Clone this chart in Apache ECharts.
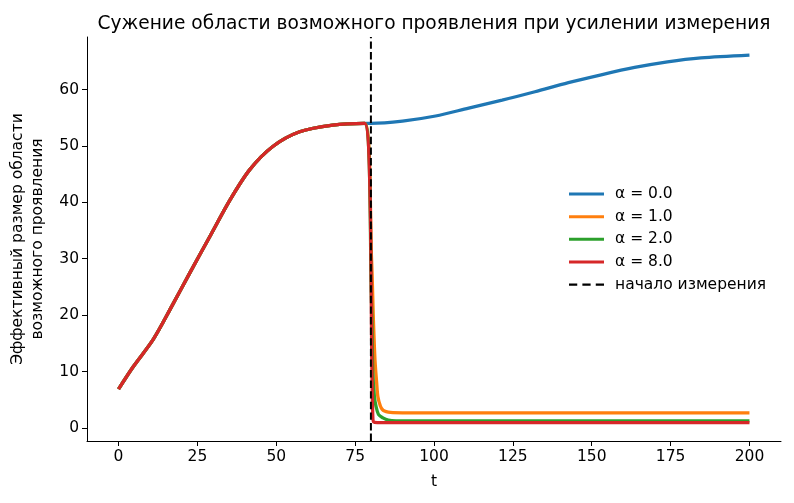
<!DOCTYPE html>
<html>
<head>
<meta charset="utf-8">
<script src="https://cdn.jsdelivr.net/npm/echarts@6/dist/echarts.min.js"></script>
<style>
  html, body { margin: 0; padding: 0; background: #fff; }
  #chart { width: 794px; height: 503px; }
</style>
</head>
<body>
<div id="chart"></div>
<script>
// общий участок до начала измерения (все кривые совпадают)
var tPre = [0, 4.7, 11, 16.9, 22.6, 28.9, 35.3, 41.6, 48.9, 57.4, 67.9, 78.0];
var vPre = [6.9, 10.9, 15.7, 21.6, 27.5, 33.9, 40.4, 45.8, 49.9, 52.5, 53.7, 54.0];

// α = 0.0 — измерения нет, продолжает расти
var tBlue = [80, 90, 100.5, 111, 121.6, 132, 142.6, 153, 163.6, 174, 184.6, 200];
var vBlue = [54.0, 54.4, 55.3, 56.7, 58.1, 59.6, 61.2, 62.6, 63.9, 64.9, 65.6, 66.1];

// α = 1.0
var tOrange = [80.2, 80.8, 81.3, 81.8, 82.2, 83, 83.6, 84.3, 85.5, 87, 90, 200];
var vOrange = [30, 19, 12, 8.2, 5.6, 3.9, 3.3, 3.0, 2.8, 2.72, 2.7, 2.7];

// α = 2.0
var tGreen = [80.2, 80.6, 81.1, 81.6, 82.4, 83.8, 85.5, 88, 200];
var vGreen = [22, 10, 5.6, 3.9, 2.4, 1.8, 1.4, 1.28, 1.27];

// α = 8.0
var tRed = [80.6, 80.9, 82, 200];
var vRed = [2.0, 1.05, 0.97, 0.97];

var measureStart = 80;
var xTicks = [0, 25, 50, 75, 100, 125, 150, 175, 200];
var yTicks = [0, 10, 20, 30, 40, 50, 60];
var xMin = -10, xMax = 210;
var yMin = -2.3, yMax = 69.3;

function pairs(ts, vs) {
  return ts.map(function (t, i) { return [t, vs[i]]; });
}

var chart = echarts.init(document.getElementById("chart"), null, { renderer: "canvas" });

var font = "DejaVu Sans";
var pre = pairs(tPre, vPre);

function lineSeries(name, color, data) {
  return {
    name: name,
    type: "line",
    data: data,
    symbol: "none",
    smooth: 0.3,
    color: color,
    lineStyle: { width: 3.3, color: color },
    animation: false,
    z: 2
  };
}

// иконки легенды: сплошная линия и пунктир
var solidIcon = "rect";
var dashIcon = "path://M0,0h8v2.2h-8z M13,0h8v2.2h-8z M26,0h8v2.2h-8z";

chart.setOption({
  backgroundColor: "#fff",
  title: {
    text: "Сужение области возможного проявления при усилении измерения",
    left: 429,
    textAlign: "center",
    top: 10,
    textStyle: { fontFamily: font, fontSize: 18.6, fontWeight: "normal", color: "#000" }
  },
  grid: { left: 87, right: 13, top: 37, bottom: 62, containLabel: false },
  legend: {
    orient: "vertical",
    left: 564,
    top: 181,
    itemWidth: 35,
    itemHeight: 3,
    itemGap: 6.65,
    textStyle: { fontFamily: font, fontSize: 15.5, lineHeight: 15, color: "#000", padding: [0, 0, 0, 6] },
    data: [
      { name: "α = 0.0", icon: solidIcon },
      { name: "α = 1.0", icon: solidIcon },
      { name: "α = 2.0", icon: solidIcon },
      { name: "α = 8.0", icon: solidIcon },
      { name: "начало измерения", icon: dashIcon }
    ]
  },
  xAxis: {
    type: "value",
    min: xMin,
    max: xMax,
    name: "t",
    nameLocation: "middle",
    nameGap: 33,
    nameTextStyle: { fontFamily: font, fontSize: 15.5, color: "#000" },
    splitLine: { show: false },
    axisLine: { onZero: false, lineStyle: { color: "#000", width: 1 } },
    axisTick: { customValues: xTicks, length: 5, lineStyle: { color: "#000" } },
    axisLabel: { customValues: xTicks, margin: 8, fontFamily: font, fontSize: 15.5, color: "#000" }
  },
  yAxis: {
    type: "value",
    min: yMin,
    max: yMax,
    name: "Эффективный размер области\nвозможного проявления",
    nameLocation: "middle",
    nameRotate: 90,
    nameGap: 35,
    nameTextStyle: { fontFamily: font, fontSize: 15.5, color: "#000", lineHeight: 20 },
    splitLine: { show: false },
    axisLine: { show: true, onZero: false, lineStyle: { color: "#000", width: 1 } },
    axisTick: { show: true, customValues: yTicks, length: 5, lineStyle: { color: "#000" } },
    axisLabel: { customValues: yTicks, margin: 8, fontFamily: font, fontSize: 15.5, color: "#000" }
  },
  series: [
    lineSeries("α = 0.0", "#1f77b4", pre.concat(pairs(tBlue, vBlue))),
    lineSeries("α = 1.0", "#ff7f0e", pre.concat(pairs(tOrange, vOrange))),
    lineSeries("α = 2.0", "#2ca02c", pre.concat(pairs(tGreen, vGreen))),
    lineSeries("α = 8.0", "#d62728", pre.concat(pairs(tRed, vRed))),
    {
      name: "начало измерения",
      type: "line",
      data: [[measureStart, yMin], [measureStart, yMax]],
      symbol: "none",
      color: "#000",
      lineStyle: { width: 2, color: "#000", type: [7.4, 3.2] },
      animation: false,
      z: 3
    }
  ]
});
</script>
</body>
</html>
